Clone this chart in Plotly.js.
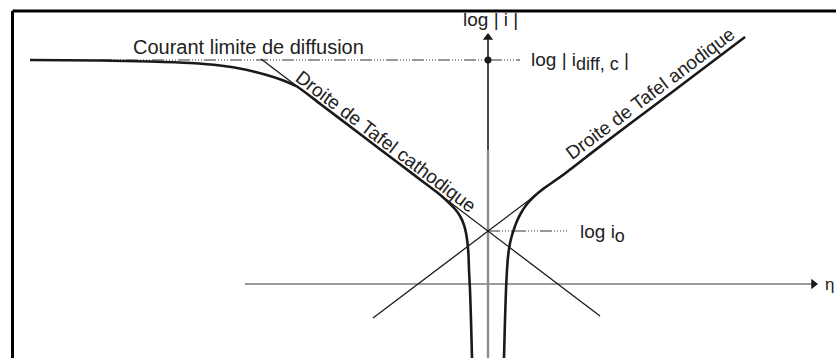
<!DOCTYPE html>
<html>
<head>
<meta charset="utf-8">
<script src="https://cdn.plot.ly/plotly-3.0.1.min.js"></script>
<style>
  html, body { margin: 0; padding: 0; background: #fff; }
  #chart { width: 836px; height: 358px; }
</style>
</head>
<body>
<div id="chart"></div>
<script>
// Schematic Tafel plot: log|i| versus overpotential η (arbitrary units)

// Characteristic levels
const logI0 = 2.65;      // exchange current density level
const logIdiff = 11.2;   // cathodic diffusion-limited current level

// Total cathodic current (polarisation curve, η < 0 side)
const cathEta  = [-22.9, -19.4, -16.9, -14.9, -13.4, -12.15, -11.15, -10.3, -9.55, -8.4, -6.4, -4.4, -3.15, -2.5, -2.05, -1.65, -1.4, -1.2, -1.1, -1.025, -0.975, -0.95, -0.9, -0.85, -0.8, -0.775];
const cathLogI = [11.2, 11.175, 11.125, 11.05, 10.925, 10.725, 10.475, 10.2, 9.875, 9.015, 7.5, 5.985, 5.04, 4.545, 4.15, 3.75, 3.4, 2.95, 2.55, 2.05, 1.45, 0.7, -0.3, -1.8, -3.7, -4.55];

// Total anodic current (polarisation curve, η > 0 side)
const anEta  = [0.775, 0.8, 0.85, 0.9, 0.95, 1.0, 1.075, 1.175, 1.3, 1.45, 1.65, 1.95, 2.3, 2.75, 3.25, 3.85, 5.6, 8.1, 10.6, 12.85];
const anLogI = [-4.55, -3.7, -1.8, -0.3, 0.7, 1.35, 1.9, 2.35, 2.75, 3.15, 3.55, 4.0, 4.375, 4.75, 5.1, 5.525, 6.88, 8.765, 10.65, 12.35];

// Tafel straight lines (end points)
const tafelCathEta  = [-11.35, 5.6];
const tafelCathLogI = [11.25, -1.6];
const tafelAnEta  = [-5.75, 12.85];
const tafelAnLogI = [-1.7, 12.35];

// Guide lines
const limitEta = [-19.4, 1.6];
const i0Eta = [0, 3.95];

// Axes extents (lines end at the centre of their arrow heads)
const etaAxis = [-12.15, 16.275];
const logiAxisLow = [-4.6, 6.7];
const logiAxisHigh = [6.7, 12.325];

// Text labels
const labelCourant = 'Courant limite de diffusion';
const labelTafelCath = 'Droite de Tafel cathodique';
const labelTafelAn = 'Droite de Tafel anodique';
const labelLogI = 'log | i |';
const labelIdiff = 'log | i<sub><span style="font-size:18px">diff, c</span></sub> |';
const labelI0 = 'log i<sub><span style="font-size:18px">o</span></sub>';
const labelEta = 'η';

const ink = '#1a1a1a';
const guideDash = '12px,2px,1px,2px,1px,2px,1px,2px,1px,2px';

const traces = [
  // axes
  { x: etaAxis, y: [0, 0], mode: 'lines', line: { color: '#7a7a7a', width: 1.6 } },
  { x: [0, 0], y: logiAxisLow, mode: 'lines', line: { color: '#8c8c8c', width: 2.4 } },
  { x: [0, 0], y: logiAxisHigh, mode: 'lines', line: { color: '#333', width: 1.8 } },
  // arrow heads
  { x: [etaAxis[1]], y: [0], mode: 'markers', marker: { symbol: 'triangle-right', size: 9, color: ink } },
  { x: [0], y: [logiAxisHigh[1]], mode: 'markers', marker: { symbol: 'triangle-up', size: 9, color: ink } },
  // guide lines
  { x: limitEta, y: [logIdiff, logIdiff], mode: 'lines', line: { color: '#333', width: 1.2, dash: guideDash } },
  { x: i0Eta, y: [logI0, logI0], mode: 'lines', line: { color: '#333', width: 1.2, dash: guideDash } },
  // Tafel lines
  { x: tafelCathEta, y: tafelCathLogI, mode: 'lines', line: { color: ink, width: 1.3 } },
  { x: tafelAnEta, y: tafelAnLogI, mode: 'lines', line: { color: ink, width: 1.3 } },
  // polarisation curves
  { x: cathEta, y: cathLogI, mode: 'lines', line: { color: ink, width: 2.6, shape: 'spline', smoothing: 0.6 } },
  { x: anEta, y: anLogI, mode: 'lines', line: { color: ink, width: 2.6, shape: 'spline', smoothing: 0.6 } },
  // limiting current marker on the ordinate
  { x: [0], y: [logIdiff], mode: 'markers', marker: { color: ink, size: 7 } }
];

const family = 'Liberation Sans, Arial, sans-serif';
const font = { family, size: 19, color: '#222' };
const fontWide = { family, size: 20, color: '#222' };
const fontEta = { family, size: 17, color: '#222' };

const annotations = [
  { x: 0.1, y: 13.25, text: labelLogI, showarrow: false, xanchor: 'center', yanchor: 'middle', font },
  { x: 2.05, y: 11.15, text: labelIdiff, showarrow: false, xanchor: 'left', yanchor: 'middle', font },
  { x: 4.5, y: 2.55, text: labelI0, showarrow: false, xanchor: 'left', yanchor: 'middle', font },
  { x: 16.75, y: 0, text: labelEta, showarrow: false, xanchor: 'left', yanchor: 'middle', font: fontEta },
  { x: -12.0, y: 11.85, text: labelCourant, showarrow: false, xanchor: 'center', yanchor: 'middle', font: fontWide },
  { x: -5.1, y: 7.15, text: labelTafelCath, showarrow: false, textangle: 37.2, xanchor: 'center', yanchor: 'middle', font },
  { x: 8.1, y: 9.55, text: labelTafelAn, showarrow: false, textangle: -37.0, xanchor: 'center', yanchor: 'middle', font }
];

// frame (top and left edges)
const fx = 12.5 / 836, fy = 1 - 11 / 358;
const shapes = [
  { type: 'line', xref: 'paper', yref: 'paper', x0: fx, y0: -0.01, x1: fx, y1: fy, line: { color: '#000', width: 3 } },
  { type: 'line', xref: 'paper', yref: 'paper', x0: fx, y0: fy, x1: 1.01, y1: fy, line: { color: '#000', width: 3 } }
];

const layout = {
  width: 836, height: 358,
  margin: { l: 0, r: 0, t: 0, b: 0 },
  paper_bgcolor: '#fff', plot_bgcolor: '#fff',
  showlegend: false,
  xaxis: { range: [-24.4, 17.4], visible: false, fixedrange: true },
  yaxis: { range: [-3.7, 14.2], visible: false, fixedrange: true },
  annotations, shapes
};

Plotly.newPlot('chart', traces, layout, { displayModeBar: false, staticPlot: true });
</script>
</body>
</html>
